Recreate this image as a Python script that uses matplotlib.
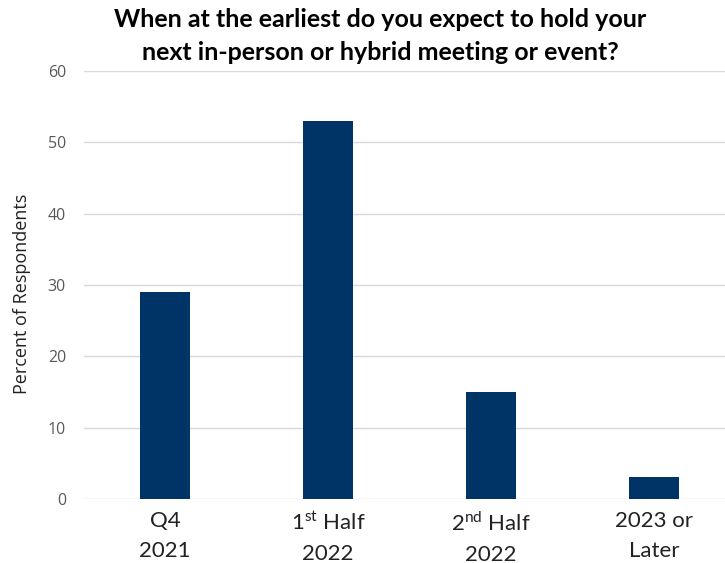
import matplotlib.pyplot as plt
import numpy as np

plt.rcParams['font.family'] = ['Open Sans', 'DejaVu Sans']
plt.rcParams['mathtext.fontset'] = 'custom'
plt.rcParams['mathtext.rm'] = 'Lato'

categories = ['Q4\n2021', '1$^{\\mathrm{st}}$ Half\n2022', '2$^{\\mathrm{nd}}$ Half\n2022', '2023 or\nLater']
percent = [29, 53, 15, 3]
yticks = [0, 10, 20, 30, 40, 50, 60]

fig = plt.figure(figsize=(7.25, 5.63), dpi=100)
ax = fig.add_axes([0.116, 0.114, 0.884, 0.760])

x = np.arange(len(categories))
ax.bar(x, percent, width=0.307, color='#003366', zorder=3)

ax.set_xlim(-0.497, 3.436)
ax.set_ylim(0, 60)
ax.set_yticks(yticks)
ax.set_xticks(x)
ax.set_xticklabels(categories, fontsize=16, color='#222222', linespacing=1.6,
                   family=['Lato', 'DejaVu Sans'])
ax.tick_params(axis='y', labelsize=11.5, colors='#595959', length=0, pad=13)
ax.tick_params(axis='x', length=0, pad=9)
ax.grid(axis='y', color='#d9d9d9', linewidth=1, zorder=0)
for s in ax.spines.values():
    s.set_visible(False)
ax.set_ylabel('Percent of Respondents', fontsize=13, color='#222222')
ax.yaxis.set_label_coords(-0.083, 0.48)

fig.text(0.524, 0.985, 'When at the earliest do you expect to hold your\nnext in-person or hybrid meeting or event?',
         ha='center', va='top', fontsize=18, fontweight='bold', linespacing=1.5,
         family=['Lato', 'DejaVu Sans'])

fig.savefig('out.png', dpi=100)
